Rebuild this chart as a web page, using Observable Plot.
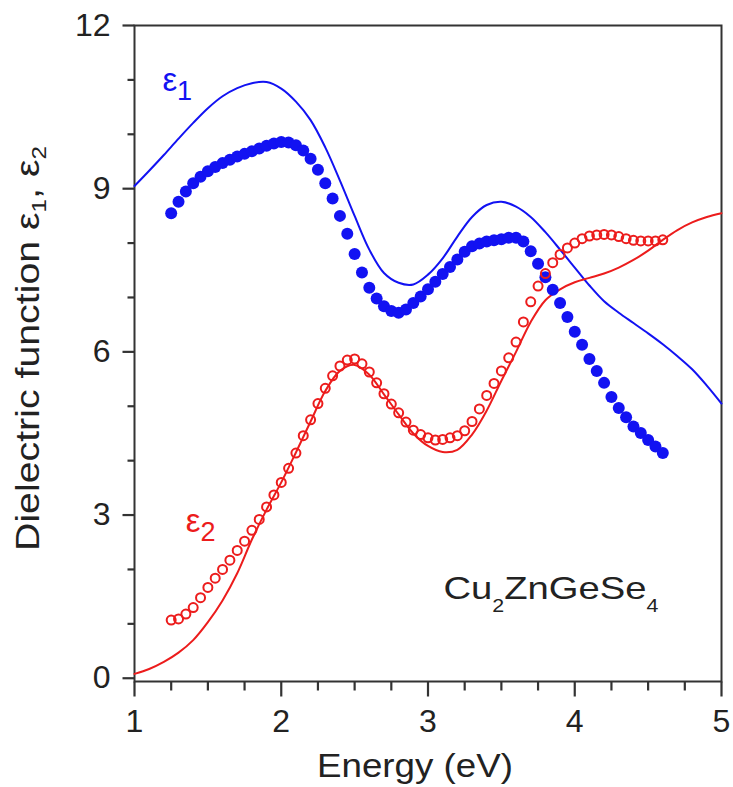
<!DOCTYPE html>
<html>
<head>
<meta charset="utf-8">
<script src="https://cdn.jsdelivr.net/npm/d3@7"></script>
<script src="https://cdn.jsdelivr.net/npm/@observablehq/plot@0.6"></script>
<style>
  body { margin: 0; background: #fff; }
  #chart svg { display: block; }
</style>
</head>
<body>
<div id="chart"></div>
<script>
// Model curves (solid lines), sampled every 0.1 eV
const modelEnergy = [1.0, 1.1, 1.2, 1.3, 1.4, 1.5, 1.6, 1.7, 1.8, 1.9, 2.0,
  2.1, 2.2, 2.3, 2.4, 2.5, 2.6, 2.7, 2.8, 2.9, 3.0,
  3.1, 3.2, 3.3, 3.4, 3.5, 3.6, 3.7, 3.8, 3.9, 4.0,
  4.1, 4.2, 4.3, 4.4, 4.5, 4.6, 4.7, 4.8, 4.9, 5.0];
const modelEps1 = [9.05, 9.33, 9.62, 9.92, 10.21, 10.48, 10.7, 10.85, 10.94, 10.96, 10.84,
  10.6, 10.26, 9.76, 9.15, 8.5, 7.88, 7.45, 7.27, 7.24, 7.42,
  7.72, 8.12, 8.48, 8.7, 8.76, 8.67, 8.48, 8.2, 7.88, 7.55,
  7.22, 6.93, 6.72, 6.53, 6.34, 6.14, 5.92, 5.68, 5.38, 5.05];
const modelEps2 = [0.08, 0.17, 0.3, 0.47, 0.7, 1.03, 1.43, 1.93, 2.55, 3.1, 3.6,
  4.15, 4.72, 5.28, 5.65, 5.76, 5.58, 5.22, 4.85, 4.5, 4.27,
  4.16, 4.2, 4.48, 4.92, 5.47, 6.0, 6.55, 6.95, 7.15, 7.28,
  7.36, 7.44, 7.55, 7.69, 7.86, 8.06, 8.24, 8.38, 8.48, 8.55];

// Measured points (symbols)
const measEnergy = [1.25, 1.30, 1.35, 1.40, 1.45, 1.50, 1.55, 1.60, 1.65, 1.70,
  1.75, 1.80, 1.85, 1.90, 1.95, 2.00, 2.05, 2.10, 2.15, 2.20,
  2.25, 2.30, 2.35, 2.40, 2.45, 2.50, 2.55, 2.60, 2.65, 2.70,
  2.75, 2.80, 2.85, 2.90, 2.95, 3.00, 3.05, 3.10, 3.15, 3.20,
  3.25, 3.30, 3.35, 3.40, 3.45, 3.50, 3.55, 3.60, 3.65, 3.70,
  3.75, 3.80, 3.85, 3.90, 3.95, 4.00, 4.05, 4.10, 4.15, 4.20,
  4.25, 4.30, 4.35, 4.40, 4.45, 4.50, 4.55, 4.60];
const measEps1 = [8.55, 8.76, 8.95, 9.1, 9.22, 9.32, 9.4, 9.47, 9.53, 9.59,
  9.64, 9.69, 9.74, 9.79, 9.83, 9.86, 9.85, 9.8, 9.7, 9.55,
  9.35, 9.1, 8.82, 8.5, 8.17, 7.8, 7.46, 7.18, 6.98, 6.84,
  6.75, 6.72, 6.78, 6.9, 7.02, 7.15, 7.29, 7.43, 7.56, 7.7,
  7.84, 7.94, 7.99, 8.03, 8.05, 8.07, 8.1, 8.1, 8.03, 7.85,
  7.62, 7.37, 7.14, 6.9, 6.64, 6.37, 6.13, 5.87, 5.65, 5.43,
  5.17, 4.97, 4.8, 4.63, 4.51, 4.38, 4.26, 4.14];
const measEps2 = [1.07, 1.09, 1.18, 1.3, 1.48, 1.67, 1.84, 2.0, 2.17, 2.35,
  2.52, 2.72, 2.92, 3.15, 3.37, 3.6, 3.86, 4.14, 4.46, 4.75,
  5.05, 5.33, 5.56, 5.74, 5.85, 5.87, 5.78, 5.63, 5.43, 5.23,
  5.04, 4.88, 4.71, 4.56, 4.48, 4.42, 4.38, 4.39, 4.42, 4.46,
  4.55, 4.72, 4.95, 5.2, 5.42, 5.65, 5.89, 6.18, 6.55, 6.92,
  7.21, 7.44, 7.64, 7.79, 7.91, 8.0, 8.08, 8.13, 8.15, 8.16,
  8.15, 8.12, 8.08, 8.05, 8.04, 8.04, 8.04, 8.06];

// Axis ticks
const xMajor = [1, 2, 3, 4, 5];
const xMinor = [1.25, 1.5, 1.75, 2.25, 2.5, 2.75, 3.25, 3.5, 3.75, 4.25, 4.5, 4.75];
const yMajor = [0, 3, 6, 9, 12];
const yMinor = [1, 2, 4, 5, 7, 8, 10, 11];

const model = modelEnergy.map((e, i) => ({e, eps1: modelEps1[i], eps2: modelEps2[i]}));
const meas = measEnergy.map((e, i) => ({e, eps1: measEps1[i], eps2: measEps2[i]}));

const BLUE = "#1212f2";
const RED = "#ec1c1c";
const INK = "#222";
const AXIS = "#333";

// Outward tick glyphs: a short stroke hanging below / to the left of the anchor point
const tickDown = len => ({draw(ctx) { ctx.moveTo(0, 0); ctx.lineTo(0, len); }});
const tickLeft = len => ({draw(ctx) { ctx.moveTo(0, 0); ctx.lineTo(-len, 0); }});
const tickStyle = {fill: "none", stroke: AXIS, strokeWidth: 2.2, r: 4};

const chart = Plot.plot({
  width: 733,
  height: 787,
  marginLeft: 134,
  marginRight: 12,
  marginTop: 25,
  marginBottom: 106,
  style: {fontFamily: "'Liberation Sans', Arial, sans-serif", background: "#fff", color: INK},
  x: {domain: [1, 5]},
  y: {domain: [-0.06, 12]},
  marks: [
    // tick labels
    Plot.axisX(xMajor, {tickSize: 0, tickPadding: 28, fontSize: 32, fill: INK,
      tickFormat: d => String(d), label: null}),
    Plot.axisY(yMajor, {tickSize: 0, tickPadding: 24, fontSize: 32, fill: INK,
      tickFormat: d => String(d), label: null}),
    // tick marks
    Plot.dot(xMinor, {x: d => d, frameAnchor: "bottom", symbol: tickDown(9), ...tickStyle}),
    Plot.dot(xMajor, {x: d => d, frameAnchor: "bottom", symbol: tickDown(15), ...tickStyle}),
    Plot.dot(yMinor, {y: d => d, frameAnchor: "left", symbol: tickLeft(7), ...tickStyle}),
    Plot.dot(yMajor, {y: d => d, frameAnchor: "left", symbol: tickLeft(12), ...tickStyle}),
    Plot.frame({stroke: AXIS, strokeWidth: 2}),
    // axis titles
    Plot.text(["Energy (eV)"], {frameAnchor: "bottom", text: d => d, dx: -13, dy: 95, fontSize: 33,
      textAnchor: "middle", lineAnchor: "bottom", fill: INK, className: "title-x"}),
    Plot.text(["Dielectric function ε_1, ε_2"], {frameAnchor: "left", text: d => d, rotate: -90, dx: -119, dy: -5,
      fontSize: 33, textAnchor: "middle", lineAnchor: "top", fill: INK, className: "title-y"}),
    // curves and measured points
    Plot.line(model, {x: "e", y: "eps1", stroke: BLUE, strokeWidth: 2, curve: "catmull-rom"}),
    Plot.line(model, {x: "e", y: "eps2", stroke: RED, strokeWidth: 2, curve: "catmull-rom"}),
    Plot.dot(meas, {x: "e", y: "eps1", r: 6, fill: BLUE, stroke: "none"}),
    Plot.dot(meas, {x: "e", y: "eps2", r: 4.5, fill: "none", stroke: RED, strokeWidth: 2}),
    // labels
    Plot.text(["ε_1"], {x: 1.19, y: 10.8, text: d => d, fill: BLUE, fontSize: 33, textAnchor: "start",
      lineAnchor: "bottom", className: "lab-eps"}),
    Plot.text(["ε_2"], {x: 1.35, y: 2.68, text: d => d, fill: RED, fontSize: 33, textAnchor: "start",
      lineAnchor: "bottom", className: "lab-eps"}),
    Plot.text(["Cu_2ZnGeSe_4"], {x: 3.105, y: 1.46, text: d => d, fill: INK, fontSize: 32, textAnchor: "start",
      lineAnchor: "bottom", className: "lab-formula"})
  ]
});

// Turn "_n" markers into subscript tspans
function subscripts(selector, size, shift, length) {
  d3.select(chart).selectAll(selector + " text").each(function() {
    const el = this;
    const parts = el.textContent.split(/_(\d)/);
    while (el.firstChild) el.removeChild(el.firstChild);
    parts.forEach((p, i) => {
      if (!p) return;
      const t = document.createElementNS("http://www.w3.org/2000/svg", "tspan");
      t.textContent = p;
      if (i % 2 === 1) {
        t.setAttribute("font-size", size);
        t.setAttribute("baseline-shift", shift);
      }
      el.appendChild(t);
    });
    if (length) {
      el.setAttribute("textLength", length);
      el.setAttribute("lengthAdjust", "spacingAndGlyphs");
    }
  });
}
subscripts(".title-y", "62%", "-7px", 405);
subscripts(".title-x", "100%", "0", 196);
subscripts(".lab-eps", "82%", "-9px", null);
subscripts(".lab-formula", "56%", "-13px", 215);

document.getElementById("chart").appendChild(chart);
</script>
</body>
</html>
